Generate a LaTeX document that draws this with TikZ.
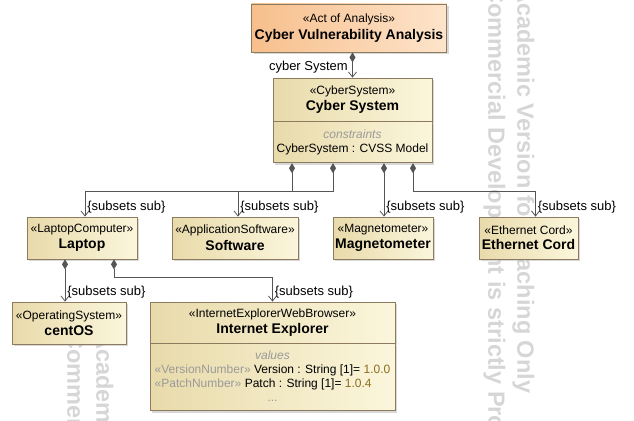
\documentclass[tikz,border=0pt]{standalone}
\usepackage{fontspec}
\setmainfont{Liberation Sans}
\usetikzlibrary{arrows.meta,shadows}

\definecolor{blockline}{HTML}{8C7B5E}
\definecolor{blockdark}{HTML}{E8DAAA}
\definecolor{blocklight}{HTML}{FBF6DC}
\definecolor{actdark}{HTML}{F7BF8C}
\definecolor{actlight}{HTML}{FDE4CB}
\definecolor{wire}{HTML}{555555}
\definecolor{greytxt}{HTML}{9A9A9A}
\definecolor{valtxt}{HTML}{8C6D1F}
\definecolor{wmark}{HTML}{D6D6D6}

% stereotype over bold name
\newcommand{\blk}[2]{{\fontsize{12}{13}\selectfont «#1»}\\[3pt]{\fontsize{14}{15}\selectfont\bfseries #2}}

\tikzset{
  block/.style={draw=blockline, line width=0.8pt, left color=blockdark, right color=blocklight,
    drop shadow={shadow xshift=2pt, shadow yshift=-2pt, fill=black!30},
    align=center, inner sep=0pt, minimum height=42pt},
  actblock/.style={block, left color=actdark, right color=actlight},
  comp/.style={draw=wire, line width=0.8pt, {Diamond[length=10pt,width=6pt]}-{Straight Barb[length=5pt,width=8pt]}},
  lbl/.style={anchor=south west, inner sep=0pt, xshift=2pt, yshift=3pt, font=\fontsize{13}{15}\selectfont},
  wmk/.style={rotate=-90, anchor=west, align=left, inner sep=0pt, text=wmark, font=\fontsize{23.5}{29}\selectfont\bfseries},
}

\begin{document}
\begin{tikzpicture}[x=1pt, y=-1pt]
    \useasboundingbox (0,0) rectangle (634,420);
    \clip (0,0) rectangle (634,420);
    % watermark
    \node[wmk] (wm1) at (509,-14) {Academic Version for Teaching Only\\Commercial Development is strictly Prohibited};
    \node[wmk] (wm2) at (88,332) {Academic Version for Teaching Only\\Commercial Development is strictly Prohibited};

    \node[actblock, minimum width=195pt, minimum height=48pt] (act) at (349,28) {\blk{Act of Analysis}{Cyber Vulnerability Analysis}};
    \node[block, minimum width=159pt, minimum height=43pt] (cyber) at (352.5,99.5) {\blk{CyberSystem}{Cyber System}};
    \node[block, minimum width=159pt, minimum height=41pt, anchor=north, font=\fontsize{12}{14}\selectfont] (cyberC) at (cyber.south)
      {{\color{greytxt}\itshape constraints}\\CyberSystem : CVSS Model};

    \node[block, minimum width=110pt] (laptop) at (82,238) {\blk{LaptopComputer}{Laptop}};
    \node[block, minimum width=126pt] (software) at (235,238) {\blk{ApplicationSoftware}{Software}};
    \node[block, minimum width=100pt] (magneto) at (383,238) {\blk{Magnetometer}{Magnetometer}};
    \node[block, minimum width=99pt] (ether) at (528.5,238) {\blk{Ethernet Cord}{Ethernet Cord}};

    \node[block, minimum width=114pt] (centos) at (69,323) {\blk{OperatingSystem}{centOS}};
    \node[block, minimum width=245pt, minimum height=41pt] (ie) at (272.5,322.5) {\blk{InternetExplorerWebBrowser}{Internet Explorer}};
    \node[block, minimum width=245pt, minimum height=67pt, anchor=north, font=\fontsize{12}{14}\selectfont] (ieC) at (ie.south)
      {\begin{tabular}{@{}l@{}}
        \multicolumn{1}{c}{\color{greytxt}\itshape values}\\
        {\color{greytxt}«VersionNumber»} Version : String [1]= {\color{valtxt}1.0.0}\\
        {\color{greytxt}«PatchNumber»} Patch : String [1]= {\color{valtxt}1.0.4}\\
        \multicolumn{1}{c}{\color{greytxt}...}
      \end{tabular}};

    \draw[comp] (act.south -| cyber.north) -- node[pos=.6, left, xshift=-1pt, font=\fontsize{13}{15}\selectfont] {cyber System} (cyber.north);
    \draw[comp] ([xshift=-60.5pt]cyberC.south) -- ++(0,28) -| ([xshift=3pt]laptop.north) node[lbl] {\{subsets sub\}};
    \draw[comp] ([xshift=-19.5pt]cyberC.south) -- ++(0,28) -| ([xshift=3pt]software.north) node[lbl] {\{subsets sub\}};
    \draw[comp] ([xshift=31.5pt]cyberC.south) -- ([xshift=1pt]magneto.north) node[lbl] {\{subsets sub\}};
    \draw[comp] ([xshift=60.5pt]cyberC.south) -- ++(0,28) -| ([xshift=7pt]ether.north) node[lbl] {\{subsets sub\}};
    \draw[comp] ([xshift=-17pt]laptop.south) -- ([xshift=-4pt]centos.north) node[lbl] {\{subsets sub\}};
    \draw[comp] ([xshift=32pt]laptop.south) -- ++(0,18) -| (ie.north) node[lbl] {\{subsets sub\}};
\end{tikzpicture}
\end{document}
